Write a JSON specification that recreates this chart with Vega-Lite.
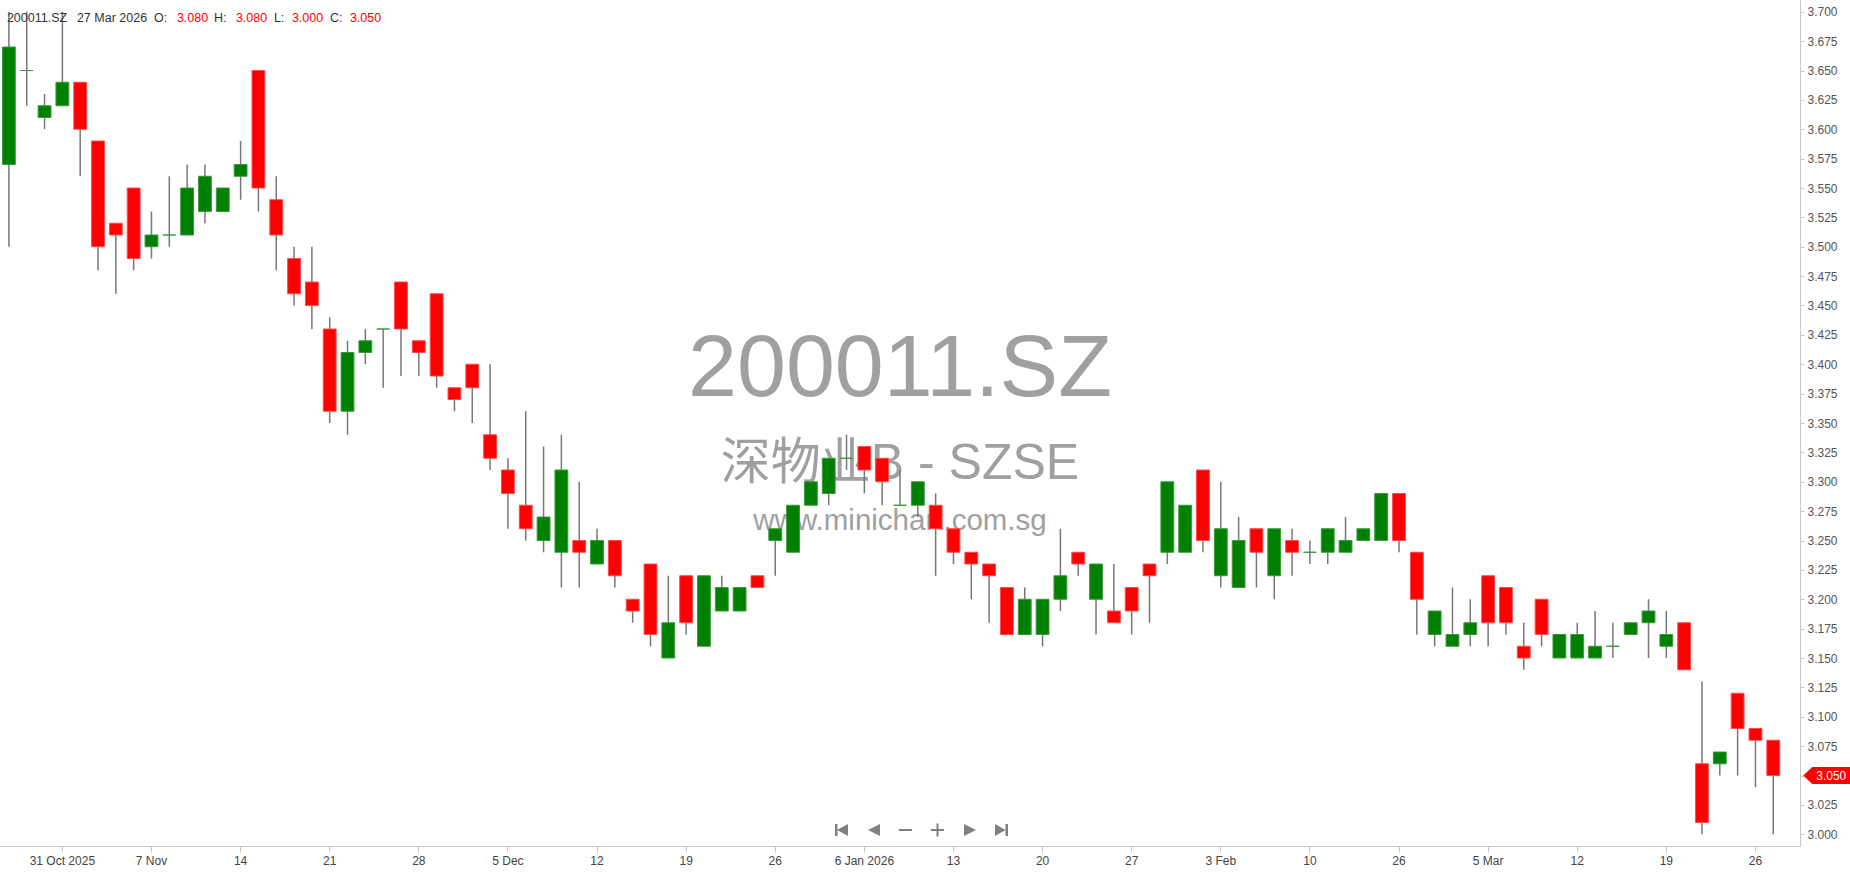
{
 "$schema": "https://vega.github.io/schema/vega-lite/v6.json",
 "width": 1800,
 "height": 846,
 "padding": 0,
 "autosize": {"type": "pad"},
 "background": "white",
 "config": {"view": {"stroke": null}, "font": "Liberation Sans"},
 "datasets": {
  "prices": [
   {"date":"2025-10-28","open":3.57,"high":3.70,"low":3.50,"close":3.67},
   {"date":"2025-10-29","open":3.65,"high":3.70,"low":3.62,"close":3.65},
   {"date":"2025-10-30","open":3.61,"high":3.63,"low":3.60,"close":3.62},
   {"date":"2025-10-31","open":3.62,"high":3.70,"low":3.62,"close":3.64},
   {"date":"2025-11-03","open":3.64,"high":3.64,"low":3.56,"close":3.60},
   {"date":"2025-11-04","open":3.59,"high":3.59,"low":3.48,"close":3.50},
   {"date":"2025-11-05","open":3.52,"high":3.52,"low":3.46,"close":3.51},
   {"date":"2025-11-06","open":3.55,"high":3.55,"low":3.48,"close":3.49},
   {"date":"2025-11-07","open":3.50,"high":3.53,"low":3.49,"close":3.51},
   {"date":"2025-11-10","open":3.51,"high":3.56,"low":3.50,"close":3.51},
   {"date":"2025-11-11","open":3.51,"high":3.57,"low":3.51,"close":3.55},
   {"date":"2025-11-12","open":3.53,"high":3.57,"low":3.52,"close":3.56},
   {"date":"2025-11-13","open":3.53,"high":3.55,"low":3.53,"close":3.55},
   {"date":"2025-11-14","open":3.56,"high":3.59,"low":3.54,"close":3.57},
   {"date":"2025-11-17","open":3.65,"high":3.65,"low":3.53,"close":3.55},
   {"date":"2025-11-18","open":3.54,"high":3.56,"low":3.48,"close":3.51},
   {"date":"2025-11-19","open":3.49,"high":3.50,"low":3.45,"close":3.46},
   {"date":"2025-11-20","open":3.47,"high":3.50,"low":3.43,"close":3.45},
   {"date":"2025-11-21","open":3.43,"high":3.44,"low":3.35,"close":3.36},
   {"date":"2025-11-24","open":3.36,"high":3.42,"low":3.34,"close":3.41},
   {"date":"2025-11-25","open":3.41,"high":3.43,"low":3.40,"close":3.42},
   {"date":"2025-11-26","open":3.43,"high":3.43,"low":3.38,"close":3.43},
   {"date":"2025-11-27","open":3.47,"high":3.47,"low":3.39,"close":3.43},
   {"date":"2025-11-28","open":3.42,"high":3.42,"low":3.39,"close":3.41},
   {"date":"2025-12-01","open":3.46,"high":3.46,"low":3.38,"close":3.39},
   {"date":"2025-12-02","open":3.38,"high":3.38,"low":3.36,"close":3.37},
   {"date":"2025-12-03","open":3.40,"high":3.40,"low":3.35,"close":3.38},
   {"date":"2025-12-04","open":3.34,"high":3.40,"low":3.31,"close":3.32},
   {"date":"2025-12-05","open":3.31,"high":3.32,"low":3.26,"close":3.29},
   {"date":"2025-12-08","open":3.28,"high":3.36,"low":3.25,"close":3.26},
   {"date":"2025-12-09","open":3.25,"high":3.33,"low":3.24,"close":3.27},
   {"date":"2025-12-10","open":3.24,"high":3.34,"low":3.21,"close":3.31},
   {"date":"2025-12-11","open":3.25,"high":3.30,"low":3.21,"close":3.24},
   {"date":"2025-12-12","open":3.23,"high":3.26,"low":3.23,"close":3.25},
   {"date":"2025-12-15","open":3.25,"high":3.25,"low":3.21,"close":3.22},
   {"date":"2025-12-16","open":3.20,"high":3.20,"low":3.18,"close":3.19},
   {"date":"2025-12-17","open":3.23,"high":3.23,"low":3.16,"close":3.17},
   {"date":"2025-12-18","open":3.15,"high":3.22,"low":3.15,"close":3.18},
   {"date":"2025-12-19","open":3.22,"high":3.22,"low":3.17,"close":3.18},
   {"date":"2025-12-22","open":3.16,"high":3.22,"low":3.16,"close":3.22},
   {"date":"2025-12-23","open":3.19,"high":3.22,"low":3.19,"close":3.21},
   {"date":"2025-12-24","open":3.19,"high":3.21,"low":3.19,"close":3.21},
   {"date":"2025-12-25","open":3.22,"high":3.22,"low":3.21,"close":3.21},
   {"date":"2025-12-26","open":3.25,"high":3.26,"low":3.22,"close":3.26},
   {"date":"2025-12-29","open":3.24,"high":3.28,"low":3.24,"close":3.28},
   {"date":"2025-12-30","open":3.28,"high":3.30,"low":3.28,"close":3.30},
   {"date":"2025-12-31","open":3.29,"high":3.32,"low":3.28,"close":3.32},
   {"date":"2026-01-05","open":3.32,"high":3.34,"low":3.31,"close":3.32},
   {"date":"2026-01-06","open":3.33,"high":3.33,"low":3.29,"close":3.31},
   {"date":"2026-01-07","open":3.32,"high":3.32,"low":3.28,"close":3.30},
   {"date":"2026-01-08","open":3.28,"high":3.31,"low":3.28,"close":3.28},
   {"date":"2026-01-09","open":3.28,"high":3.30,"low":3.27,"close":3.30},
   {"date":"2026-01-12","open":3.28,"high":3.29,"low":3.22,"close":3.26},
   {"date":"2026-01-13","open":3.26,"high":3.26,"low":3.23,"close":3.24},
   {"date":"2026-01-14","open":3.24,"high":3.24,"low":3.20,"close":3.23},
   {"date":"2026-01-15","open":3.23,"high":3.23,"low":3.18,"close":3.22},
   {"date":"2026-01-16","open":3.21,"high":3.21,"low":3.17,"close":3.17},
   {"date":"2026-01-19","open":3.17,"high":3.21,"low":3.17,"close":3.20},
   {"date":"2026-01-20","open":3.17,"high":3.20,"low":3.16,"close":3.20},
   {"date":"2026-01-21","open":3.20,"high":3.26,"low":3.19,"close":3.22},
   {"date":"2026-01-22","open":3.24,"high":3.24,"low":3.22,"close":3.23},
   {"date":"2026-01-23","open":3.20,"high":3.23,"low":3.17,"close":3.23},
   {"date":"2026-01-26","open":3.19,"high":3.23,"low":3.18,"close":3.18},
   {"date":"2026-01-27","open":3.21,"high":3.21,"low":3.17,"close":3.19},
   {"date":"2026-01-28","open":3.23,"high":3.23,"low":3.18,"close":3.22},
   {"date":"2026-01-29","open":3.24,"high":3.30,"low":3.23,"close":3.30},
   {"date":"2026-01-30","open":3.24,"high":3.28,"low":3.24,"close":3.28},
   {"date":"2026-02-02","open":3.31,"high":3.31,"low":3.24,"close":3.25},
   {"date":"2026-02-03","open":3.22,"high":3.30,"low":3.21,"close":3.26},
   {"date":"2026-02-04","open":3.21,"high":3.27,"low":3.21,"close":3.25},
   {"date":"2026-02-05","open":3.26,"high":3.26,"low":3.21,"close":3.24},
   {"date":"2026-02-06","open":3.22,"high":3.26,"low":3.20,"close":3.26},
   {"date":"2026-02-09","open":3.25,"high":3.26,"low":3.22,"close":3.24},
   {"date":"2026-02-10","open":3.24,"high":3.25,"low":3.23,"close":3.24},
   {"date":"2026-02-11","open":3.24,"high":3.26,"low":3.23,"close":3.26},
   {"date":"2026-02-12","open":3.24,"high":3.27,"low":3.24,"close":3.25},
   {"date":"2026-02-13","open":3.25,"high":3.26,"low":3.25,"close":3.26},
   {"date":"2026-02-25","open":3.25,"high":3.29,"low":3.25,"close":3.29},
   {"date":"2026-02-26","open":3.29,"high":3.29,"low":3.24,"close":3.25},
   {"date":"2026-02-27","open":3.24,"high":3.24,"low":3.17,"close":3.20},
   {"date":"2026-03-02","open":3.17,"high":3.19,"low":3.16,"close":3.19},
   {"date":"2026-03-03","open":3.16,"high":3.21,"low":3.16,"close":3.17},
   {"date":"2026-03-04","open":3.17,"high":3.20,"low":3.16,"close":3.18},
   {"date":"2026-03-05","open":3.22,"high":3.22,"low":3.16,"close":3.18},
   {"date":"2026-03-06","open":3.21,"high":3.21,"low":3.17,"close":3.18},
   {"date":"2026-03-09","open":3.16,"high":3.18,"low":3.14,"close":3.15},
   {"date":"2026-03-10","open":3.20,"high":3.20,"low":3.16,"close":3.17},
   {"date":"2026-03-11","open":3.15,"high":3.17,"low":3.15,"close":3.17},
   {"date":"2026-03-12","open":3.15,"high":3.18,"low":3.15,"close":3.17},
   {"date":"2026-03-13","open":3.15,"high":3.19,"low":3.15,"close":3.16},
   {"date":"2026-03-16","open":3.16,"high":3.18,"low":3.15,"close":3.16},
   {"date":"2026-03-17","open":3.17,"high":3.18,"low":3.17,"close":3.18},
   {"date":"2026-03-18","open":3.18,"high":3.20,"low":3.15,"close":3.19},
   {"date":"2026-03-19","open":3.16,"high":3.19,"low":3.15,"close":3.17},
   {"date":"2026-03-20","open":3.18,"high":3.18,"low":3.14,"close":3.14},
   {"date":"2026-03-23","open":3.06,"high":3.13,"low":3.00,"close":3.01},
   {"date":"2026-03-24","open":3.06,"high":3.07,"low":3.05,"close":3.07},
   {"date":"2026-03-25","open":3.12,"high":3.12,"low":3.05,"close":3.09},
   {"date":"2026-03-26","open":3.09,"high":3.09,"low":3.04,"close":3.08},
   {"date":"2026-03-27","open":3.08,"high":3.08,"low":3.00,"close":3.05}
  ],
  "watermark": [
   {"role":"code","text":"200011.SZ"},
   {"role":"name","text":"深物业B - SZSE"},
   {"role":"site","text":"www.minichart.com.sg"}
  ],
  "nav": [{"control":"pager"}]
 },
 "data": {"name": "prices"},
 "resolve": {"axis": {"x": "independent", "y": "independent"}},
 "layer": [
  {
   "mark": {"type": "rule", "color": "#777777", "strokeWidth": 1.5, "opacity": 0},
   "encoding": {
    "x": {"field": "date", "type": "ordinal",
     "scale": {"type": "band", "paddingInner": 0, "paddingOuter": 0.5, "align": 0},
     "axis": {
      "title": null, "labelAngle": 0, "grid": false,
      "values": ["2025-10-31","2025-11-07","2025-11-14","2025-11-21","2025-11-28","2025-12-05","2025-12-12","2025-12-19","2025-12-26","2026-01-06","2026-01-13","2026-01-20","2026-01-27","2026-02-03","2026-02-10","2026-02-26","2026-03-05","2026-03-12","2026-03-19","2026-03-26"],
      "labelExpr": "['31 Oct 2025','7 Nov','14','21','28','5 Dec','12','19','26','6 Jan 2026','13','20','27','3 Feb','10','26','5 Mar','12','19','26'][indexof(['2025-10-31','2025-11-07','2025-11-14','2025-11-21','2025-11-28','2025-12-05','2025-12-12','2025-12-19','2025-12-26','2026-01-06','2026-01-13','2026-01-20','2026-01-27','2026-02-03','2026-02-10','2026-02-26','2026-03-05','2026-03-12','2026-03-19','2026-03-26'], datum.value)]",
      "domainColor": "#c8c8c8", "tickColor": "#c8c8c8", "tickSize": 6,
      "labelColor": "#444444", "labelFontSize": 12, "labelFont": "Liberation Sans", "labelPadding": 3
     }
    },
    "y": {"field": "low", "type": "quantitative",
     "scale": {"domain": [2.99, 3.71], "zero": false, "nice": false},
     "axis": {
      "orient": "right", "title": null, "grid": false,
      "values": [3, 3.025, 3.05, 3.075, 3.1, 3.125, 3.15, 3.175, 3.2, 3.225, 3.25, 3.275, 3.3, 3.325, 3.35, 3.375, 3.4, 3.425, 3.45, 3.475, 3.5, 3.525, 3.55, 3.575, 3.6, 3.625, 3.65, 3.675, 3.7],
      "labelExpr": "format(datum.value, '.3f') == '3.050' ? '' : format(datum.value, '.3f')",
      "domainColor": "#c8c8c8", "tickColor": "#c8c8c8", "tickSize": 4,
      "labelColor": "#555555", "labelFontSize": 12, "labelFont": "Liberation Sans", "labelPadding": 3
     }
    },
    "y2": {"field": "high"}
   }
  },
  {
   "data": {"name": "watermark"},
   "transform": [{"filter": "datum.role == 'code'"}],
   "mark": {"type": "text", "fontSize": 88, "color": "#a0a0a0", "align": "center", "baseline": "middle", "font": "Liberation Sans"},
   "encoding": {
    "x": {"datum": "2026-01-08", "type": "ordinal", "axis": null},
    "y": {"datum": 3.3955, "type": "quantitative", "axis": null},
    "text": {"field": "text"}
   }
  },
  {
   "data": {"name": "watermark"},
   "transform": [{"filter": "datum.role == 'name'"}],
   "mark": {"type": "text", "fontSize": 50, "color": "#a0a0a0", "align": "center", "baseline": "middle", "font": "Liberation Sans, Noto Sans CJK SC"},
   "encoding": {
    "x": {"datum": "2026-01-08", "type": "ordinal", "axis": null},
    "y": {"datum": 3.315, "type": "quantitative", "axis": null},
    "text": {"field": "text"}
   }
  },
  {
   "data": {"name": "watermark"},
   "transform": [{"filter": "datum.role == 'site'"}],
   "mark": {"type": "text", "fontSize": 29.5, "color": "#a0a0a0", "align": "center", "baseline": "middle", "font": "Liberation Sans"},
   "encoding": {
    "x": {"datum": "2026-01-08", "type": "ordinal", "axis": null},
    "y": {"datum": 3.267, "type": "quantitative", "axis": null},
    "text": {"field": "text"}
   }
  },
  {
   "mark": {"type": "rule", "color": "#777777", "strokeWidth": 1.5},
   "encoding": {
    "x": {"field": "date", "type": "ordinal", "axis": null},
    "y": {"field": "low", "type": "quantitative", "axis": null},
    "y2": {"field": "high"}
   }
  },
  {
   "mark": {"type": "bar", "width": {"band": 0.72}, "strokeWidth": 1},
   "encoding": {
    "x": {"field": "date", "type": "ordinal", "axis": null},
    "y": {"field": "open", "type": "quantitative", "axis": null},
    "y2": {"field": "close"},
    "color": {"condition": {"test": "datum.close >= datum.open", "value": "#008000"}, "value": "#ff0000"},
    "stroke": {"condition": {"test": "datum.close >= datum.open", "value": "#3a9a3a"}, "value": "#ff4a4a"}
   }
  },
  {
   "data": {"name": "nav"},
   "mark": {"type": "point", "filled": true, "opacity": 1, "color": "#808080", "strokeWidth": 0, "size": 4,
    "shape": "M -65 -6 L -62.5 -6 L -62.5 6 L -65 6 Z M -63 0 L -52 -6 L -52 6 Z M -32 0 L -20 -6 L -20 6 Z M -1 -1 L 12 -1 L 12 1 L -1 1 Z M 31 -1 L 44 -1 L 44 1 L 31 1 Z M 36.5 -6.5 L 38.5 -6.5 L 38.5 6.5 L 36.5 6.5 Z M 64 -6 L 76 0 L 64 6 Z M 95 -6 L 105.5 0 L 95 6 Z M 105.5 -6 L 108 -6 L 108 6 L 105.5 6 Z"},
   "encoding": {
    "x": {"datum": "2026-01-08", "type": "ordinal", "axis": null},
    "y": {"datum": 3.0036, "type": "quantitative", "axis": null}
   }
  },
  {
   "transform": [{"filter": "datum.date == '2026-03-27'"}],
   "layer": [
    {
     "mark": {"type": "point", "filled": true, "opacity": 1, "color": "#ff0000", "strokeWidth": 0, "size": 400,
      "shape": "M 3 0 L 3.9 -0.85 L 7.7 -0.85 L 7.7 0.85 L 3.9 0.85 Z"},
     "encoding": {
      "x": {"field": "date", "type": "ordinal", "axis": null},
      "y": {"field": "close", "type": "quantitative", "axis": null}
     }
    },
    {
     "mark": {"type": "text", "color": "white", "fontSize": 12, "align": "center", "baseline": "middle", "dx": 58},
     "encoding": {
      "x": {"field": "date", "type": "ordinal", "axis": null},
      "y": {"field": "close", "type": "quantitative", "axis": null},
      "text": {"field": "close", "format": ".3f"}
     }
    },
    {
     "mark": {"type": "text", "text": "200011.SZ", "color": "#333333", "fontSize": 12.5, "align": "left", "baseline": "middle", "dx": -2},
     "encoding": {"x": {"datum": "2025-10-28", "type": "ordinal", "axis": null}, "y": {"datum": 3.695, "type": "quantitative", "axis": null}}
    },
    {
     "mark": {"type": "text", "text": "27 Mar 2026", "color": "#333333", "fontSize": 12.5, "align": "left", "baseline": "middle", "dx": 68},
     "encoding": {"x": {"datum": "2025-10-28", "type": "ordinal", "axis": null}, "y": {"datum": 3.695, "type": "quantitative", "axis": null}}
    },
    {
     "mark": {"type": "text", "text": "O:", "color": "#333333", "fontSize": 12.5, "align": "left", "baseline": "middle", "dx": 145},
     "encoding": {"x": {"datum": "2025-10-28", "type": "ordinal", "axis": null}, "y": {"datum": 3.695, "type": "quantitative", "axis": null}}
    },
    {
     "mark": {"type": "text", "color": "#ff0000", "fontSize": 12.5, "align": "left", "baseline": "middle", "dx": 168},
     "encoding": {"x": {"datum": "2025-10-28", "type": "ordinal", "axis": null}, "y": {"datum": 3.695, "type": "quantitative", "axis": null}, "text": {"field": "open", "format": ".3f"}}
    },
    {
     "mark": {"type": "text", "text": "H:", "color": "#333333", "fontSize": 12.5, "align": "left", "baseline": "middle", "dx": 205},
     "encoding": {"x": {"datum": "2025-10-28", "type": "ordinal", "axis": null}, "y": {"datum": 3.695, "type": "quantitative", "axis": null}}
    },
    {
     "mark": {"type": "text", "color": "#ff0000", "fontSize": 12.5, "align": "left", "baseline": "middle", "dx": 227},
     "encoding": {"x": {"datum": "2025-10-28", "type": "ordinal", "axis": null}, "y": {"datum": 3.695, "type": "quantitative", "axis": null}, "text": {"field": "high", "format": ".3f"}}
    },
    {
     "mark": {"type": "text", "text": "L:", "color": "#333333", "fontSize": 12.5, "align": "left", "baseline": "middle", "dx": 265},
     "encoding": {"x": {"datum": "2025-10-28", "type": "ordinal", "axis": null}, "y": {"datum": 3.695, "type": "quantitative", "axis": null}}
    },
    {
     "mark": {"type": "text", "color": "#ff0000", "fontSize": 12.5, "align": "left", "baseline": "middle", "dx": 283},
     "encoding": {"x": {"datum": "2025-10-28", "type": "ordinal", "axis": null}, "y": {"datum": 3.695, "type": "quantitative", "axis": null}, "text": {"field": "low", "format": ".3f"}}
    },
    {
     "mark": {"type": "text", "text": "C:", "color": "#333333", "fontSize": 12.5, "align": "left", "baseline": "middle", "dx": 321},
     "encoding": {"x": {"datum": "2025-10-28", "type": "ordinal", "axis": null}, "y": {"datum": 3.695, "type": "quantitative", "axis": null}}
    },
    {
     "mark": {"type": "text", "color": "#ff0000", "fontSize": 12.5, "align": "left", "baseline": "middle", "dx": 341},
     "encoding": {"x": {"datum": "2025-10-28", "type": "ordinal", "axis": null}, "y": {"datum": 3.695, "type": "quantitative", "axis": null}, "text": {"field": "close", "format": ".3f"}}
    }
   ]
  }
 ]
}
